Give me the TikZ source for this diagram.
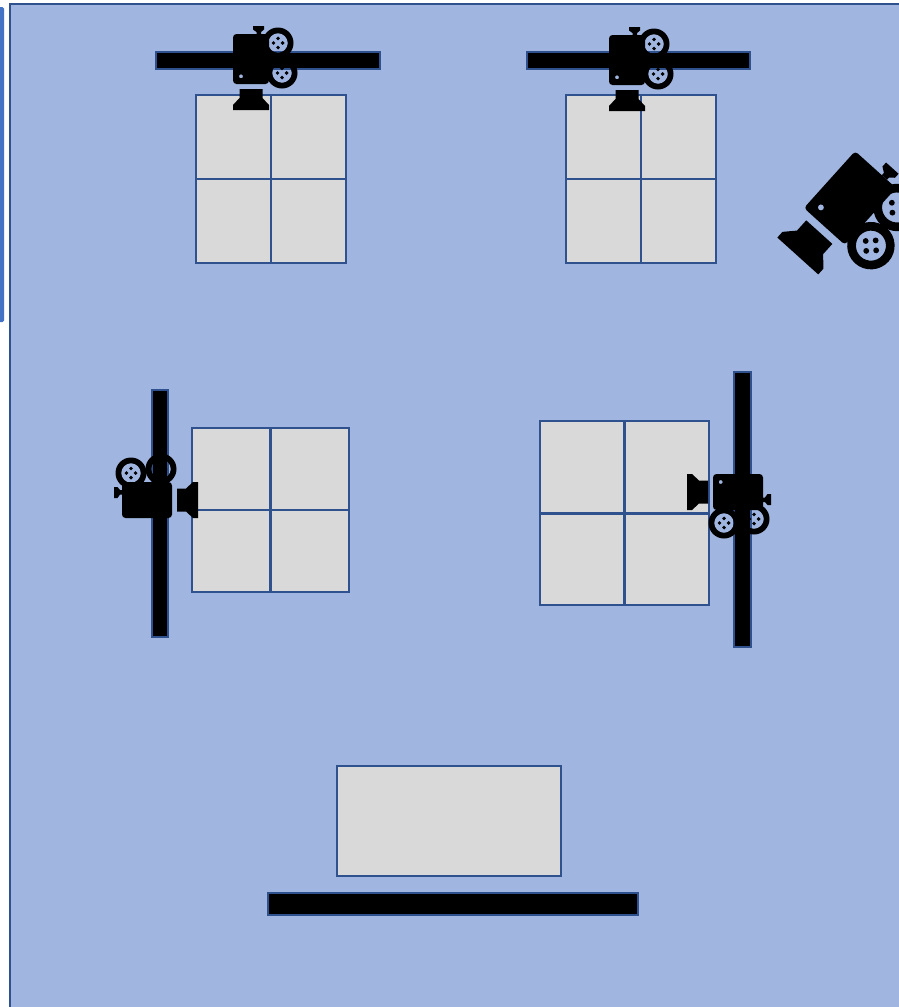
\documentclass[tikz,border=0pt]{standalone}
\definecolor{sheet}{HTML}{A0B6E0}
\definecolor{edgeblue}{HTML}{2F528F}
\definecolor{stripblue}{HTML}{4472C4}
\definecolor{panel}{HTML}{D9D9D9}
\tikzset{
  x=1pt,y=-1pt,
  panelbox/.style={draw=edgeblue,line width=2.4pt,fill=panel},
  panelrule/.style={draw=edgeblue,line width=2.4pt},
  railbar/.style={draw=edgeblue,line width=2.4pt,fill=black},
  moviecam/.pic={
    \foreach \rx/\ry in {27/-16,31/14}{
      \fill[black,even odd rule] (\rx,\ry) circle[radius=15.5] (\rx,\ry) circle[radius=9.8];
      \foreach \dx/\dy in {4.6/0,-4.6/0,0/4.6,0/-4.6}{\fill[black] (\rx+\dx,\ry+\dy) circle[radius=1.9];}
    }
    % body with its pin-hole
    \fill[black,even odd rule,rounded corners=3.5pt]
      (-18,-25) -- (18,-25) -- (18,25) -- (-18,25) -- cycle
      [sharp corners] (-10,17.3) circle[radius=2];
    % viewfinder knob
    \fill[black] (2,-33) -- (13,-33) -- (13,-29.5) -- (10,-27) -- (10,-25) -- (5.5,-25) -- (5.5,-27) -- (2,-29.5) -- cycle;
    % lens
    \fill[black] (-11.5,30) -- (11.5,30) -- (11.5,39) -- (18,46) -- (18,51) -- (-18,51) -- (-18,46) -- (-11.5,39) -- cycle;
  }
}
\begin{document}
\begin{tikzpicture}
\useasboundingbox (0,0) rectangle (899,1007);
\fill[white] (0,0) rectangle (899,1007);
\fill[stripblue,rounded corners=1.5pt] (-3,7) rectangle (4,322);
\fill[sheet] (10,4) rectangle (899,1007);
\draw[edgeblue,line width=2.4pt] (900,4) -- (10,4) -- (10,1008);

% panels
\draw[panelbox] (196,95) rectangle (346,263);
\draw[panelrule] (271,95) -- (271,263) (196,179) -- (346,179);
\draw[panelbox] (566,95) rectangle (716,263);
\draw[panelrule] (641,95) -- (641,263) (566,179) -- (716,179);
\draw[panelbox] (192,428) rectangle (349,592);
\draw[panelrule] (270.5,428) -- (270.5,592) (192,510) -- (349,510);
\draw[panelbox] (540,421) rectangle (709,605);
\draw[panelrule] (624.5,421) -- (624.5,605) (540,513.5) -- (709,513.5);
\draw[panelbox] (337,766) rectangle (561,876);

% rails
\draw[railbar] (156,52) rectangle (380,69);
\draw[railbar] (527,52) rectangle (750,69);
\draw[railbar] (152,390) rectangle (168,637);
\draw[railbar] (734,372) rectangle (751,647);
\draw[railbar] (268,893) rectangle (638,915);

% cameras
\pic at (251,59) {moviecam};
\pic at (627,60) {moviecam};
\pic[rotate=90] at (147,500) {moviecam};
\pic[rotate=-90] at (738,492) {moviecam};
\begin{scope}
\clip (0,0) rectangle (899,1007);
\pic[rotate=-42,scale=1.53] at (850,198) {moviecam};
\end{scope}
\end{tikzpicture}
\end{document}
